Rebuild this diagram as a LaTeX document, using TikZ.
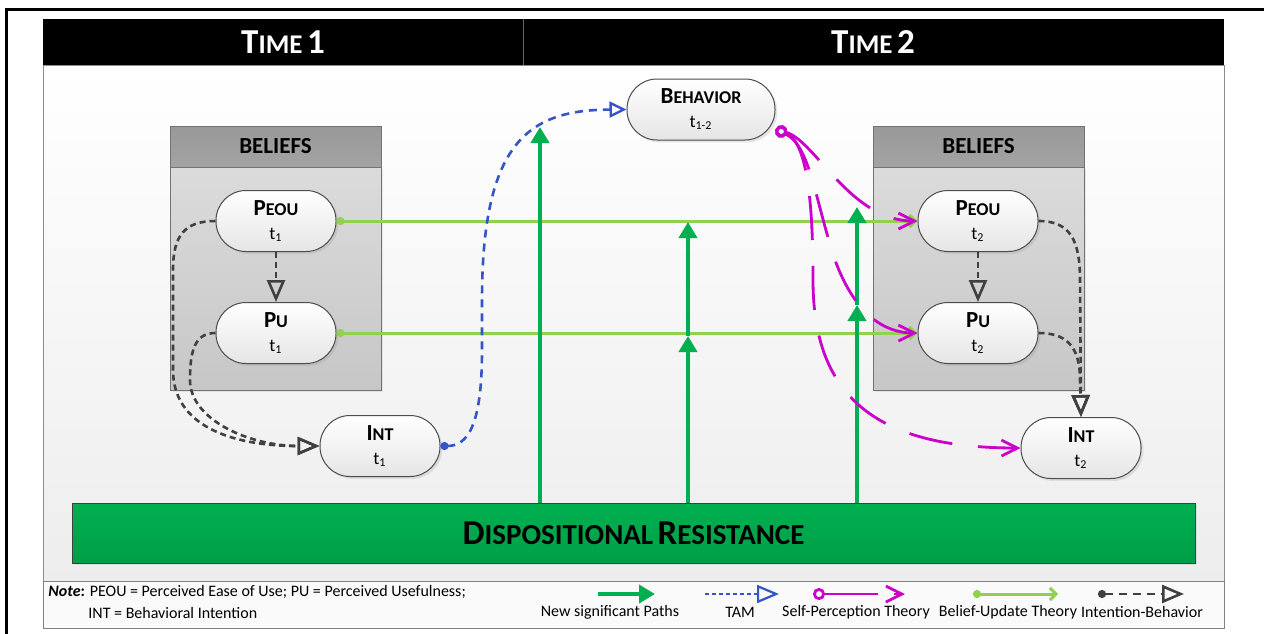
\documentclass[tikz,border=0pt]{standalone}
\usepackage{fontspec}
\setmainfont{Carlito}
\usetikzlibrary{arrows.meta,shadows,calc}

\definecolor{sgreen}{HTML}{00B050}
\definecolor{dgreen}{HTML}{009E48}
\definecolor{lgreen}{HTML}{92D050}
\definecolor{tamblue}{HTML}{3355C8}
\definecolor{spmag}{HTML}{CC00CC}
\definecolor{ibgray}{HTML}{404040}

\newcommand{\fsc}[4]{{\fontsize{#1}{#1}\selectfont #3}{\fontsize{#2}{#2}\selectfont #4}}

\begin{document}
\begin{tikzpicture}[x=0.5pt,y=-0.5pt,
  construct/.style={draw=black!70, line width=0.5pt, rounded corners=15pt,
    top color=white, bottom color=black!10, minimum width=60pt, minimum height=30.5pt,
    inner sep=0pt, align=center, font=\fontsize{9}{12}\selectfont,
    drop shadow={shadow xshift=1.2pt,shadow yshift=-1.2pt,opacity=0.18}},
  bhead/.style={draw=black!55, line width=0.5pt, top color=black!40, bottom color=black!36,
    minimum width=105.5pt, minimum height=20.5pt, inner sep=0pt,
    font=\bfseries\fontsize{11.5}{12}\selectfont},
  bbody/.style={draw=black!55, line width=0.5pt, top color=black!14, bottom color=black!22,
    minimum width=105.5pt, minimum height=111.5pt, inner sep=0pt,
    drop shadow={shadow xshift=1.2pt,shadow yshift=-1.2pt,opacity=0.15}},
  drbox/.style={draw=black!75, line width=0.5pt, top color=sgreen, bottom color=dgreen,
    minimum width=561.5pt, minimum height=30pt, inner sep=0pt,
    font=\bfseries, drop shadow={shadow xshift=1.2pt,shadow yshift=-1.2pt,opacity=0.15}},
  headtxt/.style={text=white, font=\bfseries, inner sep=0pt},
  legtxt/.style={font=\fontsize{8}{9}\selectfont, inner sep=0pt},
  newpath/.style={sgreen, line width=2pt, -{Triangle[length=8pt,width=9pt]}},
  tam/.style={tamblue, line width=1.3pt, dash pattern=on 4pt off 3pt,
    {Circle[length=4pt]}-{Triangle[open,length=8.5pt,width=8pt,line width=1.2pt]}},
  ib/.style={ibgray, line width=1.3pt, dash pattern=on 3pt off 2pt,
    -{Triangle[open,length=11pt,width=9pt,line width=1.3pt]}},
  bu/.style={lgreen, line width=1.5pt, {Circle[length=4pt]}-{Straight Barb[length=3pt,width=6pt]}},
  spt/.style={spmag, line width=1.4pt, dash pattern=on 22pt off 13pt,
    {Circle[open,length=6pt,width=6pt,line width=1.4pt]}-{Straight Barb[length=8pt,width=8pt,line width=1.4pt]}},
]
\useasboundingbox (0,0) rectangle (1264,633);

% outer frame
\draw[line width=1.5pt] (6,640) -- (6,9) -- (1270,9);

% panel
\path[draw=black!45, line width=0.5pt, top color=white, bottom color=black!7] (43,65) rectangle (1224,581);
\path[draw=black!50, line width=0.5pt, fill=black!2] (43,581) rectangle (1224,628);
\fill[black] (43,19) rectangle (1224,65);
\draw[black!60, line width=0.5pt] (523,19) -- (523,65);
\node[headtxt] (t1) at (283,42) {\fsc{17.5}{13.5}{T}{IME} {\fontsize{17.5}{17.5}\selectfont 1}};
\node[headtxt] (t2) at (873,42) {\fsc{17.5}{13.5}{T}{IME} {\fontsize{17.5}{17.5}\selectfont 2}};

% beliefs containers
\node[bbody] (bb1) at (275.5,278.5) {};
\node[bhead] (bh1) at (275.5,146.5) {BELIEFS};
\node[bbody] (bb2) at (978.5,278.5) {};
\node[bhead] (bh2) at (978.5,146.5) {BELIEFS};

% dispositional resistance
\node[drbox] (dr) at (633.5,533) {\fsc{17.5}{14.5}{D}{ISPOSITIONAL} \fsc{17.5}{14.5}{R}{ESISTANCE}};

% constructs
\node[construct] (peou1) at (276,221) {{\bfseries\fsc{11.5}{9}{P}{EOU}}\\t\textsubscript{1}};
\node[construct] (pu1) at (276,333) {{\bfseries\fsc{11.5}{9}{P}{U}}\\t\textsubscript{1}};
\node[construct] (int1) at (380,446) {{\bfseries\fsc{11.5}{9}{I}{NT}}\\t\textsubscript{1}};
\node[construct, minimum width=74pt] (beh) at (701,109.5) {{\bfseries\fsc{11.5}{9}{B}{EHAVIOR}}\\t\textsubscript{1-2}};
\node[construct] (peou2) at (978,221) {{\bfseries\fsc{11.5}{9}{P}{EOU}}\\t\textsubscript{2}};
\node[construct] (pu2) at (978,333) {{\bfseries\fsc{11.5}{9}{P}{U}}\\t\textsubscript{2}};
\node[construct] (int2) at (1081,448) {{\bfseries\fsc{11.5}{9}{I}{NT}}\\t\textsubscript{2}};

% belief-update
\draw[bu] (peou1.east) -- (peou2.west);
\draw[bu] (pu1.east) -- (pu2.west);

% new significant paths
\coordinate (ga1) at (540,127);
\coordinate (ga2) at (688,336);
\coordinate (ga3) at (688,222);
\coordinate (ga4) at (857,305);
\coordinate (ga5) at (857,207);
\draw[newpath] (dr.north -| ga1) -- (ga1);
\draw[newpath] (dr.north -| ga2) -- (ga2);
\draw[newpath] (ga2) -- (ga3);
\draw[newpath] (dr.north -| ga4) -- (ga4);
\draw[newpath] (ga4) -- (ga5);

% TAM
\draw[tam] (int1.east) .. controls (468,446) and (482,425) .. (482,350)
  -- (482,300) .. controls (482,140) and (530,110) .. (beh.west);

% intention-behavior
\draw[ib] (peou1.south) -- (pu1.north);
\draw[ib] (peou1.west) .. controls (185,221) and (173,235) .. (173,270)
  -- (173,370) .. controls (173,425) and (230,446) .. (int1.west);
\draw[ib] (pu1.west) .. controls (195,333) and (190,350) .. (190,380)
  .. controls (190,420) and (250,446) .. (int1.west);
\draw[ib] (peou2.south) -- (pu2.north);
\draw[ib] (peou2.east) .. controls (1070,221) and (1080,240) .. (1080,280) -- (int2.north);
\draw[ib] (pu2.east) .. controls (1065,333) and (1080,345) .. (1080,380) -- (int2.north);

% self-perception
\draw[spt] (beh.-15) .. controls (815,140) and (850,221) .. (peou2.west);
\draw[spt] (beh.-15) .. controls (810,145) and (815,200) .. (835,260)
  .. controls (855,315) and (885,333) .. (pu2.west);
\draw[spt] (beh.-15) .. controls (805,140) and (813,190) .. (813,280)
  .. controls (813,400) and (880,448) .. (int2.west);

% legend
\node[legtxt, anchor=west] (note1) at (48,592) {\textbf{\textit{Note}:} PEOU = Perceived Ease of Use; PU = Perceived Usefulness;};
\node[legtxt, anchor=west] (note2) at (88,613) {INT = Behavioral Intention};

\coordinate (l1a) at (598,594); \coordinate (l1b) at (655,594);
\coordinate (l2a) at (705,594); \coordinate (l2b) at (779,594);
\coordinate (l3a) at (813,594); \coordinate (l3b) at (905,594);
\coordinate (l4a) at (973,594); \coordinate (l4b) at (1058,594);
\coordinate (l5a) at (1098,594); \coordinate (l5b) at (1184,594);
\draw[newpath] (l1a) -- (l1b);
\draw[tam, dash pattern=on 2pt off 1.5pt, -{Triangle[open,length=11pt,width=9pt,line width=1.1pt]}] (l2a) -- (l2b);
\draw[spt, dash pattern=on 27pt off 8pt] (l3a) -- (l3b);
\draw[bu] (l4a) -- (l4b);
\draw[ib, {Circle[length=4pt]}-{Triangle[open,length=11pt,width=9pt,line width=1.3pt]}, dash pattern=on 4pt off 3pt] (l5a) -- (l5b);

\node[legtxt] (lt1) at (610,612) {New significant Paths};
\node[legtxt] (lt2) at (740,612) {TAM};
\node[legtxt] (lt3) at (856,612) {Self-Perception Theory};
\node[legtxt] (lt4) at (1008,612) {Belief-Update Theory};
\node[legtxt] (lt5) at (1142,612) {Intention-Behavior};
\end{tikzpicture}
\end{document}
